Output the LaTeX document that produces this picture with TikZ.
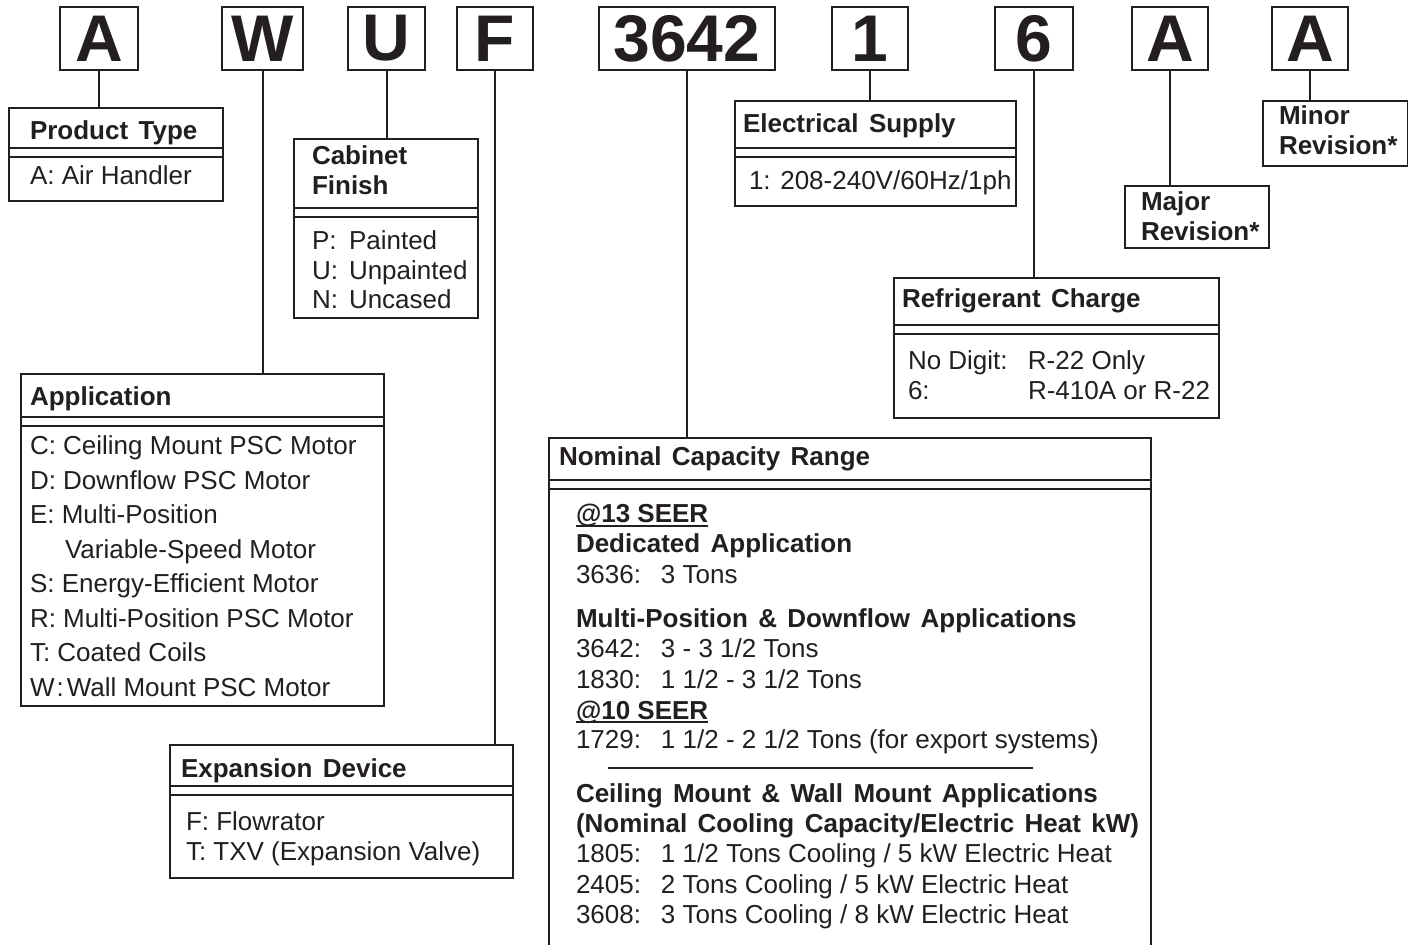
\documentclass[tikz,border=0pt]{standalone}
\usepackage{fontspec}
\setmainfont{Liberation Sans}
\definecolor{ink}{HTML}{231F20}
\newcommand{\tabto}[2]{\makebox[#1][l]{#2}}
\newcommand{\hd}[1]{{\bfseries\spaceskip=.4em\relax #1}}
\newcommand{\ttlfont}{\fontsize{13}{15}\selectfont\bfseries\spaceskip=.4em\relax}
\newcommand{\undl}[1]{\setbox0\hbox{#1}\rlap{\rule[-1.8pt]{\wd0}{0.9pt}}\box0}
\newcommand{\headrules}[2]{%
  \draw[line width=0.7pt] (#1.west |- 0,#2) -- (#1.east |- 0,#2)
    (#1.west |- 0,#2+9) -- (#1.east |- 0,#2+9);}
\begin{document}
\begin{tikzpicture}[x=0.5pt, y=-0.5pt, ink, line width=1pt,
  key/.style={draw, line width=1pt, minimum height=31.5pt, inner sep=0pt, font=\bfseries\fontsize{33}{36}\selectfont},
  infobox/.style={draw, line width=1pt, anchor=north west, inner sep=0pt},
  ttl/.style={anchor=base west, inner sep=0pt, font=\ttlfont},
  itm/.style={anchor=base west, inner sep=0pt, font=\fontsize{13}{15}\selectfont}]
\fill[white] (0,0) rectangle (1408,945);
\clip (0,0) rectangle (1408,945);
% model number digits
\node[key, minimum width=39pt] (kA) at (99,38.5) {A};
\node[key, minimum width=40.5pt] (kW) at (262.5,38.5) {W};
\node[key, minimum width=38.5pt] (kU) at (386.5,38.5) {U};
\node[key, minimum width=38pt] (kF) at (495,38.5) {F};
\node[key, minimum width=88pt] (kCap) at (687,38.5) {3642};
\node[key, minimum width=38pt] (kVolt) at (870,38.5) {1};
\node[key, minimum width=39pt] (kRef) at (1034,38.5) {6};
\node[key, minimum width=38pt] (kMaj) at (1170,38.5) {A};
\node[key, minimum width=38pt] (kMin) at (1310,38.5) {A};
% legend boxes
\node[infobox, minimum width=107pt, minimum height=46.5pt] (ptype) at (8,107) {};
\node[infobox, minimum width=92pt, minimum height=89.5pt] (cabfin) at (293,138) {};
\node[infobox, minimum width=140.5pt, minimum height=52.5pt] (elec) at (734,100) {};
\node[infobox, minimum width=72pt, minimum height=31pt] (majrev) at (1124,185) {};
\node[infobox, minimum width=72.5pt, minimum height=32.5pt] (minrev) at (1262,100) {};
\node[infobox, minimum width=162.5pt, minimum height=70pt] (refr) at (893,277) {};
\node[infobox, minimum width=181.5pt, minimum height=166pt] (appl) at (20,373) {};
\node[infobox, minimum width=171.5pt, minimum height=66.5pt] (expdev) at (169,744) {};
\node[infobox, minimum width=301pt, minimum height=270pt] (ncap) at (548,437) {};
\headrules{ptype}{148}
\headrules{cabfin}{208}
\headrules{elec}{148}
\headrules{refr}{325}
\headrules{appl}{417}
\headrules{expdev}{786}
\headrules{ncap}{480}
% leader lines
\draw (kA.south) -- (kA.south |- ptype.north);
\draw (kW.south) -- (kW.south |- appl.north);
\draw (kU.south) -- (kU.south |- cabfin.north);
\draw (kF.south) -- (kF.south |- expdev.north);
\draw (kCap.south) -- (kCap.south |- ncap.north);
\draw (kVolt.south) -- (kVolt.south |- elec.north);
\draw (kRef.south) -- (kRef.south |- refr.north);
\draw (kMaj.south) -- (kMaj.south |- majrev.north);
\draw (kMin.south) -- (kMin.south |- minrev.north);
% texts
\node[ttl] (ptypeT) at (29,140) {Product Type};
\node[itm] (ptypeA) at (29,185) {A: Air Handler};
\node[ttl] (cabT1) at (311,165) {Cabinet};
\node[ttl] (cabT2) at (311,195) {Finish};
\foreach \t [count=\i from 0] in {{\tabto{18.5pt}{P:}Painted}, {\tabto{18.5pt}{U:}Unpainted}, {\tabto{18.5pt}{N:}Uncased}}
  \node[itm] (cab\i) at (311,250+29.5*\i) {\t};
\node[ttl] (elecT) at (742,133) {Electrical Supply};
\node[itm] (elec1) at (748,190) {1: 208-240V/60Hz/1ph};
\node[ttl] (majT1) at (1140,211) {Major};
\node[ttl] (majT2) at (1140,241) {Revision*};
\node[ttl] (minT1) at (1278,125) {Minor};
\node[ttl] (minT2) at (1278,155) {Revision*};
\node[ttl] (refT) at (901,308) {Refrigerant Charge};
\node[itm] (ref1) at (907,370) {\tabto{60pt}{No Digit:}R-22 Only};
\node[itm] (ref2) at (907,400) {\tabto{60pt}{6:}R-410A or R-22};
\node[ttl] (applT) at (29,406) {Application};
\foreach \t [count=\i from 0] in {C: Ceiling Mount PSC Motor, D: Downflow PSC Motor, E: Multi-Position,
    {\hspace{17.5pt}Variable-Speed Motor}, S: Energy-Efficient Motor, R: Multi-Position PSC Motor,
    T: Coated Coils, {W\kern1pt:\kern1.5pt Wall Mount PSC Motor}}
  \node[itm] (appl\i) at (29,455+34.5*\i) {\t};
\node[ttl] (expT) at (180,777) {Expansion Device};
\node[itm] (exp1) at (185,830) {F: Flowrator};
\node[itm] (exp2) at (185,860) {T: TXV (Expansion Valve)};
\node[ttl] (ncapT) at (558,466) {Nominal Capacity Range};
\foreach \y/\t [count=\i] in {523/{\undl{\textbf{@13 SEER}}}, 553/{\hd{Dedicated Application}},
    584/{\tabto{42.5pt}{3636:}3 Tons}, 628/{\hd{Multi-Position \& Downflow Applications}},
    658/{\tabto{42.5pt}{3642:}3 - 3 1/2 Tons}, 689/{\tabto{42.5pt}{1830:}1 1/2 - 3 1/2 Tons},
    719/{\undl{\textbf{@10 SEER}}}, 748/{\tabto{42.5pt}{1729:}1 1/2 - 2 1/2 Tons (for export systems)},
    802/{\hd{Ceiling Mount \& Wall Mount Applications}}, 833/{\hd{(Nominal Cooling Capacity/Electric Heat kW)}},
    863/{\tabto{42.5pt}{1805:}1 1/2 Tons Cooling / 5 kW Electric Heat},
    893/{\tabto{42.5pt}{2405:}2 Tons Cooling / 5 kW Electric Heat},
    923/{\tabto{42.5pt}{3608:}3 Tons Cooling / 8 kW Electric Heat}}
  \node[itm] (ncap\i) at (575,\y) {\t};
\draw (608,768) -- (1033,768);
\end{tikzpicture}
\end{document}
